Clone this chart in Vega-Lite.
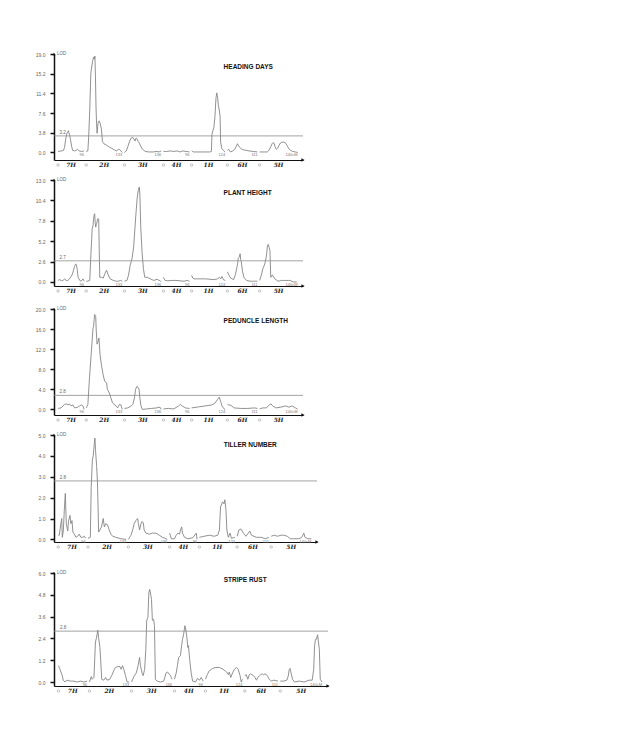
{
  "$schema": "https://vega.github.io/schema/vega-lite/v6.json",
  "background": "white",
  "padding": {"left": 35, "top": 51, "right": 5, "bottom": 5},
  "config": {
    "view": {"stroke": null},
    "axis": {"labelFont": "Liberation Sans"},
    "axisY": {"labelOverlap": false, "labelBound": false, "tickCount": 12},
    "text": {"font": "Liberation Sans"}
  },
  "datasets": {
    "traits": [
      {"trait": "HD", "name": "HEADING DAYS", "threshold": 3.2},
      {"trait": "PH", "name": "PLANT HEIGHT", "threshold": 2.7},
      {"trait": "PL", "name": "PEDUNCLE LENGTH", "threshold": 2.8},
      {"trait": "TN", "name": "TILLER NUMBER", "threshold": 2.8},
      {"trait": "SR", "name": "STRIPE RUST", "threshold": 2.8}
    ],
    "chroms": [
      {"chr": "7H", "start": 0, "end": 96, "mid": 48, "len": "96"},
      {"chr": "2H", "start": 104, "end": 237, "mid": 170.5, "len": "133"},
      {"chr": "3H", "start": 245, "end": 381, "mid": 313, "len": "136"},
      {"chr": "4H", "start": 389, "end": 485, "mid": 437, "len": "96"},
      {"chr": "1H", "start": 493, "end": 617, "mid": 555, "len": "124"},
      {"chr": "6H", "start": 625, "end": 736, "mid": 680.5, "len": "111"},
      {"chr": "5H", "start": 744, "end": 884, "mid": 814, "len": "140cM"}
    ],
    "lod": [
      {"trait":"HD","chr":"7H","cM":0,"LOD":0.2},{"trait":"HD","chr":"7H","cM":12,"LOD":0.3},{"trait":"HD","chr":"7H","cM":20,"LOD":0.4},{"trait":"HD","chr":"7H","cM":24,"LOD":1.0},{"trait":"HD","chr":"7H","cM":28,"LOD":2.5},{"trait":"HD","chr":"7H","cM":32,"LOD":3.6},{"trait":"HD","chr":"7H","cM":36,"LOD":4.0},{"trait":"HD","chr":"7H","cM":38,"LOD":4.2},{"trait":"HD","chr":"7H","cM":40,"LOD":3.8},{"trait":"HD","chr":"7H","cM":43,"LOD":3.3},{"trait":"HD","chr":"7H","cM":46,"LOD":2.5},{"trait":"HD","chr":"7H","cM":50,"LOD":1.2},{"trait":"HD","chr":"7H","cM":54,"LOD":0.4},{"trait":"HD","chr":"7H","cM":60,"LOD":0.3},{"trait":"HD","chr":"7H","cM":66,"LOD":0.4},{"trait":"HD","chr":"7H","cM":72,"LOD":0.6},{"trait":"HD","chr":"7H","cM":78,"LOD":0.3},{"trait":"HD","chr":"7H","cM":86,"LOD":0.2},{"trait":"HD","chr":"7H","cM":96,"LOD":0.3},
      {"trait":"HD","chr":"2H","cM":104,"LOD":0.2},{"trait":"HD","chr":"2H","cM":110,"LOD":0.3},{"trait":"HD","chr":"2H","cM":113,"LOD":3.0},{"trait":"HD","chr":"2H","cM":117,"LOD":8.2},{"trait":"HD","chr":"2H","cM":121,"LOD":15.3},{"trait":"HD","chr":"2H","cM":127,"LOD":17.5},{"trait":"HD","chr":"2H","cM":131,"LOD":18.4},{"trait":"HD","chr":"2H","cM":134,"LOD":18.0},{"trait":"HD","chr":"2H","cM":136,"LOD":18.6},{"trait":"HD","chr":"2H","cM":138,"LOD":14.6},{"trait":"HD","chr":"2H","cM":140,"LOD":9.0},{"trait":"HD","chr":"2H","cM":142,"LOD":5.6},{"trait":"HD","chr":"2H","cM":144,"LOD":3.7},{"trait":"HD","chr":"2H","cM":148,"LOD":5.9},{"trait":"HD","chr":"2H","cM":152,"LOD":6.1},{"trait":"HD","chr":"2H","cM":156,"LOD":5.5},{"trait":"HD","chr":"2H","cM":160,"LOD":4.5},{"trait":"HD","chr":"2H","cM":164,"LOD":2.1},{"trait":"HD","chr":"2H","cM":169,"LOD":1.7},{"trait":"HD","chr":"2H","cM":179,"LOD":1.4},{"trait":"HD","chr":"2H","cM":190,"LOD":1.0},{"trait":"HD","chr":"2H","cM":198,"LOD":0.8},{"trait":"HD","chr":"2H","cM":208,"LOD":0.5},{"trait":"HD","chr":"2H","cM":216,"LOD":0.3},{"trait":"HD","chr":"2H","cM":223,"LOD":0.6},{"trait":"HD","chr":"2H","cM":229,"LOD":0.5},{"trait":"HD","chr":"2H","cM":237,"LOD":0.0},
      {"trait":"HD","chr":"3H","cM":245,"LOD":0.0},{"trait":"HD","chr":"3H","cM":252,"LOD":0.3},{"trait":"HD","chr":"3H","cM":258,"LOD":1.2},{"trait":"HD","chr":"3H","cM":264,"LOD":2.2},{"trait":"HD","chr":"3H","cM":270,"LOD":2.8},{"trait":"HD","chr":"3H","cM":276,"LOD":2.9},{"trait":"HD","chr":"3H","cM":280,"LOD":2.6},{"trait":"HD","chr":"3H","cM":284,"LOD":2.2},{"trait":"HD","chr":"3H","cM":288,"LOD":2.8},{"trait":"HD","chr":"3H","cM":292,"LOD":2.6},{"trait":"HD","chr":"3H","cM":296,"LOD":2.1},{"trait":"HD","chr":"3H","cM":300,"LOD":1.8},{"trait":"HD","chr":"3H","cM":306,"LOD":1.1},{"trait":"HD","chr":"3H","cM":312,"LOD":0.6},{"trait":"HD","chr":"3H","cM":322,"LOD":0.2},{"trait":"HD","chr":"3H","cM":335,"LOD":0.1},{"trait":"HD","chr":"3H","cM":350,"LOD":0.1},{"trait":"HD","chr":"3H","cM":365,"LOD":0.2},{"trait":"HD","chr":"3H","cM":372,"LOD":0.1},{"trait":"HD","chr":"3H","cM":381,"LOD":0.3},
      {"trait":"HD","chr":"4H","cM":389,"LOD":0.2},{"trait":"HD","chr":"4H","cM":400,"LOD":0.2},{"trait":"HD","chr":"4H","cM":415,"LOD":0.3},{"trait":"HD","chr":"4H","cM":425,"LOD":0.2},{"trait":"HD","chr":"4H","cM":440,"LOD":0.3},{"trait":"HD","chr":"4H","cM":450,"LOD":0.1},{"trait":"HD","chr":"4H","cM":460,"LOD":0.3},{"trait":"HD","chr":"4H","cM":472,"LOD":0.2},{"trait":"HD","chr":"4H","cM":485,"LOD":0.1},
      {"trait":"HD","chr":"1H","cM":493,"LOD":0.3},{"trait":"HD","chr":"1H","cM":500,"LOD":0.1},{"trait":"HD","chr":"1H","cM":520,"LOD":0.1},{"trait":"HD","chr":"1H","cM":540,"LOD":0.1},{"trait":"HD","chr":"1H","cM":560,"LOD":0.1},{"trait":"HD","chr":"1H","cM":566,"LOD":0.2},{"trait":"HD","chr":"1H","cM":568,"LOD":3.5},{"trait":"HD","chr":"1H","cM":572,"LOD":4.3},{"trait":"HD","chr":"1H","cM":575,"LOD":4.8},{"trait":"HD","chr":"1H","cM":579,"LOD":6.9},{"trait":"HD","chr":"1H","cM":583,"LOD":10.6},{"trait":"HD","chr":"1H","cM":586,"LOD":11.5},{"trait":"HD","chr":"1H","cM":589,"LOD":10.5},{"trait":"HD","chr":"1H","cM":592,"LOD":9.0},{"trait":"HD","chr":"1H","cM":595,"LOD":8.2},{"trait":"HD","chr":"1H","cM":598,"LOD":7.0},{"trait":"HD","chr":"1H","cM":600,"LOD":2.0},{"trait":"HD","chr":"1H","cM":604,"LOD":0.8},{"trait":"HD","chr":"1H","cM":610,"LOD":0.4},{"trait":"HD","chr":"1H","cM":617,"LOD":0.1},
      {"trait":"HD","chr":"6H","cM":625,"LOD":0.4},{"trait":"HD","chr":"6H","cM":630,"LOD":0.6},{"trait":"HD","chr":"6H","cM":636,"LOD":0.1},{"trait":"HD","chr":"6H","cM":645,"LOD":0.3},{"trait":"HD","chr":"6H","cM":652,"LOD":0.6},{"trait":"HD","chr":"6H","cM":658,"LOD":1.2},{"trait":"HD","chr":"6H","cM":662,"LOD":1.7},{"trait":"HD","chr":"6H","cM":665,"LOD":1.4},{"trait":"HD","chr":"6H","cM":670,"LOD":1.0},{"trait":"HD","chr":"6H","cM":676,"LOD":0.7},{"trait":"HD","chr":"6H","cM":685,"LOD":0.5},{"trait":"HD","chr":"6H","cM":695,"LOD":0.4},{"trait":"HD","chr":"6H","cM":705,"LOD":0.3},{"trait":"HD","chr":"6H","cM":720,"LOD":0.2},{"trait":"HD","chr":"6H","cM":736,"LOD":0.1},
      {"trait":"HD","chr":"5H","cM":744,"LOD":0.1},{"trait":"HD","chr":"5H","cM":760,"LOD":0.1},{"trait":"HD","chr":"5H","cM":772,"LOD":0.1},{"trait":"HD","chr":"5H","cM":778,"LOD":0.4},{"trait":"HD","chr":"5H","cM":785,"LOD":1.1},{"trait":"HD","chr":"5H","cM":790,"LOD":1.7},{"trait":"HD","chr":"5H","cM":793,"LOD":1.9},{"trait":"HD","chr":"5H","cM":797,"LOD":1.8},{"trait":"HD","chr":"5H","cM":801,"LOD":1.1},{"trait":"HD","chr":"5H","cM":806,"LOD":0.6},{"trait":"HD","chr":"5H","cM":810,"LOD":0.8},{"trait":"HD","chr":"5H","cM":815,"LOD":1.3},{"trait":"HD","chr":"5H","cM":820,"LOD":1.8},{"trait":"HD","chr":"5H","cM":826,"LOD":2.0},{"trait":"HD","chr":"5H","cM":832,"LOD":2.0},{"trait":"HD","chr":"5H","cM":838,"LOD":1.9},{"trait":"HD","chr":"5H","cM":845,"LOD":1.4},{"trait":"HD","chr":"5H","cM":852,"LOD":0.7},{"trait":"HD","chr":"5H","cM":858,"LOD":0.4},{"trait":"HD","chr":"5H","cM":866,"LOD":0.2},{"trait":"HD","chr":"5H","cM":876,"LOD":0.1},{"trait":"HD","chr":"5H","cM":884,"LOD":0.0},

      {"trait":"PH","chr":"7H","cM":0,"LOD":0.2},{"trait":"PH","chr":"7H","cM":5,"LOD":0.3},{"trait":"PH","chr":"7H","cM":12,"LOD":0.2},{"trait":"PH","chr":"7H","cM":17,"LOD":0.15},{"trait":"PH","chr":"7H","cM":24,"LOD":0.4},{"trait":"PH","chr":"7H","cM":30,"LOD":0.2},{"trait":"PH","chr":"7H","cM":36,"LOD":0.2},{"trait":"PH","chr":"7H","cM":42,"LOD":0.4},{"trait":"PH","chr":"7H","cM":48,"LOD":0.7},{"trait":"PH","chr":"7H","cM":53,"LOD":1.0},{"trait":"PH","chr":"7H","cM":57,"LOD":1.5},{"trait":"PH","chr":"7H","cM":61,"LOD":2.0},{"trait":"PH","chr":"7H","cM":65,"LOD":2.3},{"trait":"PH","chr":"7H","cM":68,"LOD":2.2},{"trait":"PH","chr":"7H","cM":71,"LOD":1.5},{"trait":"PH","chr":"7H","cM":74,"LOD":0.6},{"trait":"PH","chr":"7H","cM":77,"LOD":0.4},{"trait":"PH","chr":"7H","cM":83,"LOD":0.1},{"trait":"PH","chr":"7H","cM":88,"LOD":0.2},{"trait":"PH","chr":"7H","cM":92,"LOD":0.4},{"trait":"PH","chr":"7H","cM":96,"LOD":0.1},
      {"trait":"PH","chr":"2H","cM":104,"LOD":0.1},{"trait":"PH","chr":"2H","cM":110,"LOD":0.1},{"trait":"PH","chr":"2H","cM":117,"LOD":0.2},{"trait":"PH","chr":"2H","cM":121,"LOD":3.4},{"trait":"PH","chr":"2H","cM":124,"LOD":5.4},{"trait":"PH","chr":"2H","cM":126,"LOD":6.8},{"trait":"PH","chr":"2H","cM":129,"LOD":7.2},{"trait":"PH","chr":"2H","cM":131,"LOD":8.0},{"trait":"PH","chr":"2H","cM":133,"LOD":8.5},{"trait":"PH","chr":"2H","cM":135,"LOD":8.7},{"trait":"PH","chr":"2H","cM":137,"LOD":7.6},{"trait":"PH","chr":"2H","cM":139,"LOD":7.0},{"trait":"PH","chr":"2H","cM":141,"LOD":7.3},{"trait":"PH","chr":"2H","cM":143,"LOD":7.5},{"trait":"PH","chr":"2H","cM":145,"LOD":7.9},{"trait":"PH","chr":"2H","cM":147,"LOD":8.1},{"trait":"PH","chr":"2H","cM":150,"LOD":8.0},{"trait":"PH","chr":"2H","cM":152,"LOD":4.0},{"trait":"PH","chr":"2H","cM":154,"LOD":0.6},{"trait":"PH","chr":"2H","cM":160,"LOD":0.6},{"trait":"PH","chr":"2H","cM":167,"LOD":0.5},{"trait":"PH","chr":"2H","cM":170,"LOD":0.8},{"trait":"PH","chr":"2H","cM":173,"LOD":1.1},{"trait":"PH","chr":"2H","cM":179,"LOD":1.5},{"trait":"PH","chr":"2H","cM":185,"LOD":0.9},{"trait":"PH","chr":"2H","cM":192,"LOD":0.4},{"trait":"PH","chr":"2H","cM":204,"LOD":0.2},{"trait":"PH","chr":"2H","cM":215,"LOD":0.1},{"trait":"PH","chr":"2H","cM":223,"LOD":0.1},{"trait":"PH","chr":"2H","cM":230,"LOD":0.2},{"trait":"PH","chr":"2H","cM":237,"LOD":0.1},
      {"trait":"PH","chr":"3H","cM":245,"LOD":0.1},{"trait":"PH","chr":"3H","cM":254,"LOD":0.2},{"trait":"PH","chr":"3H","cM":260,"LOD":0.85},{"trait":"PH","chr":"3H","cM":266,"LOD":2.1},{"trait":"PH","chr":"3H","cM":273,"LOD":3.0},{"trait":"PH","chr":"3H","cM":279,"LOD":4.5},{"trait":"PH","chr":"3H","cM":282,"LOD":6.0},{"trait":"PH","chr":"3H","cM":287,"LOD":8.5},{"trait":"PH","chr":"3H","cM":292,"LOD":10.7},{"trait":"PH","chr":"3H","cM":297,"LOD":11.9},{"trait":"PH","chr":"3H","cM":300,"LOD":12.1},{"trait":"PH","chr":"3H","cM":302,"LOD":11.1},{"trait":"PH","chr":"3H","cM":305,"LOD":7.2},{"trait":"PH","chr":"3H","cM":310,"LOD":3.8},{"trait":"PH","chr":"3H","cM":315,"LOD":1.7},{"trait":"PH","chr":"3H","cM":320,"LOD":0.6},{"trait":"PH","chr":"3H","cM":329,"LOD":0.6},{"trait":"PH","chr":"3H","cM":341,"LOD":0.4},{"trait":"PH","chr":"3H","cM":353,"LOD":0.2},{"trait":"PH","chr":"3H","cM":366,"LOD":0.35},{"trait":"PH","chr":"3H","cM":378,"LOD":0.1},{"trait":"PH","chr":"3H","cM":381,"LOD":0.1},
      {"trait":"PH","chr":"4H","cM":389,"LOD":0.6},{"trait":"PH","chr":"4H","cM":395,"LOD":0.2},{"trait":"PH","chr":"4H","cM":405,"LOD":0.15},{"trait":"PH","chr":"4H","cM":420,"LOD":0.2},{"trait":"PH","chr":"4H","cM":435,"LOD":0.2},{"trait":"PH","chr":"4H","cM":450,"LOD":0.15},{"trait":"PH","chr":"4H","cM":465,"LOD":0.1},{"trait":"PH","chr":"4H","cM":477,"LOD":0.2},{"trait":"PH","chr":"4H","cM":485,"LOD":0.1},
      {"trait":"PH","chr":"1H","cM":493,"LOD":0.85},{"trait":"PH","chr":"1H","cM":497,"LOD":0.5},{"trait":"PH","chr":"1H","cM":502,"LOD":0.4},{"trait":"PH","chr":"1H","cM":515,"LOD":0.4},{"trait":"PH","chr":"1H","cM":530,"LOD":0.4},{"trait":"PH","chr":"1H","cM":545,"LOD":0.4},{"trait":"PH","chr":"1H","cM":560,"LOD":0.35},{"trait":"PH","chr":"1H","cM":575,"LOD":0.3},{"trait":"PH","chr":"1H","cM":588,"LOD":0.4},{"trait":"PH","chr":"1H","cM":595,"LOD":0.6},{"trait":"PH","chr":"1H","cM":600,"LOD":0.4},{"trait":"PH","chr":"1H","cM":605,"LOD":0.7},{"trait":"PH","chr":"1H","cM":610,"LOD":0.3},{"trait":"PH","chr":"1H","cM":617,"LOD":0.2},
      {"trait":"PH","chr":"6H","cM":625,"LOD":1.3},{"trait":"PH","chr":"6H","cM":632,"LOD":0.8},{"trait":"PH","chr":"6H","cM":637,"LOD":0.5},{"trait":"PH","chr":"6H","cM":648,"LOD":0.3},{"trait":"PH","chr":"6H","cM":655,"LOD":1.0},{"trait":"PH","chr":"6H","cM":659,"LOD":1.7},{"trait":"PH","chr":"6H","cM":663,"LOD":2.4},{"trait":"PH","chr":"6H","cM":665,"LOD":3.0},{"trait":"PH","chr":"6H","cM":669,"LOD":3.2},{"trait":"PH","chr":"6H","cM":672,"LOD":3.6},{"trait":"PH","chr":"6H","cM":674,"LOD":2.9},{"trait":"PH","chr":"6H","cM":676,"LOD":2.6},{"trait":"PH","chr":"6H","cM":681,"LOD":1.3},{"trait":"PH","chr":"6H","cM":686,"LOD":0.6},{"trait":"PH","chr":"6H","cM":690,"LOD":0.4},{"trait":"PH","chr":"6H","cM":696,"LOD":0.2},{"trait":"PH","chr":"6H","cM":709,"LOD":0.1},{"trait":"PH","chr":"6H","cM":721,"LOD":0.1},{"trait":"PH","chr":"6H","cM":736,"LOD":0.1},
      {"trait":"PH","chr":"5H","cM":744,"LOD":0.2},{"trait":"PH","chr":"5H","cM":750,"LOD":0.85},{"trait":"PH","chr":"5H","cM":756,"LOD":1.7},{"trait":"PH","chr":"5H","cM":763,"LOD":2.3},{"trait":"PH","chr":"5H","cM":769,"LOD":3.3},{"trait":"PH","chr":"5H","cM":773,"LOD":4.7},{"trait":"PH","chr":"5H","cM":776,"LOD":4.8},{"trait":"PH","chr":"5H","cM":779,"LOD":4.4},{"trait":"PH","chr":"5H","cM":782,"LOD":4.0},{"trait":"PH","chr":"5H","cM":785,"LOD":0.6},{"trait":"PH","chr":"5H","cM":791,"LOD":0.9},{"trait":"PH","chr":"5H","cM":800,"LOD":0.4},{"trait":"PH","chr":"5H","cM":812,"LOD":0.1},{"trait":"PH","chr":"5H","cM":825,"LOD":0.2},{"trait":"PH","chr":"5H","cM":837,"LOD":0.2},{"trait":"PH","chr":"5H","cM":850,"LOD":0.2},{"trait":"PH","chr":"5H","cM":856,"LOD":0.2},{"trait":"PH","chr":"5H","cM":868,"LOD":0.0},{"trait":"PH","chr":"5H","cM":881,"LOD":0.0},

      {"trait":"PL","chr":"7H","cM":0,"LOD":0.2},{"trait":"PL","chr":"7H","cM":11,"LOD":0.3},{"trait":"PL","chr":"7H","cM":24,"LOD":1.0},{"trait":"PL","chr":"7H","cM":30,"LOD":1.1},{"trait":"PL","chr":"7H","cM":36,"LOD":0.9},{"trait":"PL","chr":"7H","cM":42,"LOD":1.1},{"trait":"PL","chr":"7H","cM":48,"LOD":0.7},{"trait":"PL","chr":"7H","cM":55,"LOD":0.9},{"trait":"PL","chr":"7H","cM":61,"LOD":0.3},{"trait":"PL","chr":"7H","cM":73,"LOD":0.45},{"trait":"PL","chr":"7H","cM":80,"LOD":0.7},{"trait":"PL","chr":"7H","cM":86,"LOD":0.9},{"trait":"PL","chr":"7H","cM":92,"LOD":0.7},{"trait":"PL","chr":"7H","cM":96,"LOD":0.0},
      {"trait":"PL","chr":"2H","cM":104,"LOD":0.3},{"trait":"PL","chr":"2H","cM":110,"LOD":1.0},{"trait":"PL","chr":"2H","cM":116,"LOD":6.3},{"trait":"PL","chr":"2H","cM":123,"LOD":11.6},{"trait":"PL","chr":"2H","cM":129,"LOD":16.2},{"trait":"PL","chr":"2H","cM":131,"LOD":16.5},{"trait":"PL","chr":"2H","cM":135,"LOD":18.9},{"trait":"PL","chr":"2H","cM":139,"LOD":18.5},{"trait":"PL","chr":"2H","cM":141,"LOD":15.6},{"trait":"PL","chr":"2H","cM":144,"LOD":13.0},{"trait":"PL","chr":"2H","cM":148,"LOD":13.6},{"trait":"PL","chr":"2H","cM":151,"LOD":14.2},{"trait":"PL","chr":"2H","cM":155,"LOD":10.9},{"trait":"PL","chr":"2H","cM":160,"LOD":8.9},{"trait":"PL","chr":"2H","cM":166,"LOD":7.0},{"trait":"PL","chr":"2H","cM":172,"LOD":5.6},{"trait":"PL","chr":"2H","cM":179,"LOD":5.3},{"trait":"PL","chr":"2H","cM":182,"LOD":4.0},{"trait":"PL","chr":"2H","cM":189,"LOD":3.3},{"trait":"PL","chr":"2H","cM":195,"LOD":2.3},{"trait":"PL","chr":"2H","cM":201,"LOD":1.3},{"trait":"PL","chr":"2H","cM":207,"LOD":1.0},{"trait":"PL","chr":"2H","cM":214,"LOD":0.7},{"trait":"PL","chr":"2H","cM":220,"LOD":0.3},{"trait":"PL","chr":"2H","cM":226,"LOD":1.0},{"trait":"PL","chr":"2H","cM":232,"LOD":0.9},{"trait":"PL","chr":"2H","cM":237,"LOD":0.0},
      {"trait":"PL","chr":"3H","cM":245,"LOD":0.2},{"trait":"PL","chr":"3H","cM":257,"LOD":0.3},{"trait":"PL","chr":"3H","cM":270,"LOD":0.7},{"trait":"PL","chr":"3H","cM":276,"LOD":1.0},{"trait":"PL","chr":"3H","cM":282,"LOD":2.3},{"trait":"PL","chr":"3H","cM":286,"LOD":4.0},{"trait":"PL","chr":"3H","cM":291,"LOD":4.6},{"trait":"PL","chr":"3H","cM":295,"LOD":4.4},{"trait":"PL","chr":"3H","cM":299,"LOD":4.0},{"trait":"PL","chr":"3H","cM":302,"LOD":2.3},{"trait":"PL","chr":"3H","cM":306,"LOD":0.7},{"trait":"PL","chr":"3H","cM":311,"LOD":0.0},{"trait":"PL","chr":"3H","cM":326,"LOD":0.1},{"trait":"PL","chr":"3H","cM":345,"LOD":0.2},{"trait":"PL","chr":"3H","cM":363,"LOD":0.3},{"trait":"PL","chr":"3H","cM":376,"LOD":0.45},{"trait":"PL","chr":"3H","cM":381,"LOD":0.0},
      {"trait":"PL","chr":"4H","cM":389,"LOD":0.1},{"trait":"PL","chr":"4H","cM":408,"LOD":0.2},{"trait":"PL","chr":"4H","cM":427,"LOD":0.1},{"trait":"PL","chr":"4H","cM":445,"LOD":0.7},{"trait":"PL","chr":"4H","cM":451,"LOD":1.0},{"trait":"PL","chr":"4H","cM":458,"LOD":0.7},{"trait":"PL","chr":"4H","cM":470,"LOD":0.3},{"trait":"PL","chr":"4H","cM":483,"LOD":0.2},{"trait":"PL","chr":"4H","cM":485,"LOD":0.2},
      {"trait":"PL","chr":"1H","cM":493,"LOD":0.3},{"trait":"PL","chr":"1H","cM":518,"LOD":0.5},{"trait":"PL","chr":"1H","cM":543,"LOD":0.7},{"trait":"PL","chr":"1H","cM":568,"LOD":0.9},{"trait":"PL","chr":"1H","cM":580,"LOD":1.3},{"trait":"PL","chr":"1H","cM":589,"LOD":2.0},{"trait":"PL","chr":"1H","cM":595,"LOD":2.45},{"trait":"PL","chr":"1H","cM":600,"LOD":1.6},{"trait":"PL","chr":"1H","cM":605,"LOD":0.7},{"trait":"PL","chr":"1H","cM":611,"LOD":0.2},{"trait":"PL","chr":"1H","cM":617,"LOD":0.0},
      {"trait":"PL","chr":"6H","cM":625,"LOD":1.1},{"trait":"PL","chr":"6H","cM":631,"LOD":0.85},{"trait":"PL","chr":"6H","cM":637,"LOD":0.85},{"trait":"PL","chr":"6H","cM":650,"LOD":0.3},{"trait":"PL","chr":"6H","cM":675,"LOD":0.2},{"trait":"PL","chr":"6H","cM":700,"LOD":0.2},{"trait":"PL","chr":"6H","cM":725,"LOD":0.3},{"trait":"PL","chr":"6H","cM":736,"LOD":0.2},
      {"trait":"PL","chr":"5H","cM":744,"LOD":0.1},{"trait":"PL","chr":"5H","cM":756,"LOD":0.3},{"trait":"PL","chr":"5H","cM":768,"LOD":0.3},{"trait":"PL","chr":"5H","cM":780,"LOD":0.9},{"trait":"PL","chr":"5H","cM":786,"LOD":1.1},{"trait":"PL","chr":"5H","cM":792,"LOD":0.7},{"trait":"PL","chr":"5H","cM":804,"LOD":0.3},{"trait":"PL","chr":"5H","cM":822,"LOD":0.45},{"trait":"PL","chr":"5H","cM":840,"LOD":0.7},{"trait":"PL","chr":"5H","cM":852,"LOD":0.45},{"trait":"PL","chr":"5H","cM":864,"LOD":0.7},{"trait":"PL","chr":"5H","cM":876,"LOD":0.3},{"trait":"PL","chr":"5H","cM":884,"LOD":0.1},

      {"trait":"TN","chr":"7H","cM":0,"LOD":0.2},{"trait":"TN","chr":"7H","cM":3.5,"LOD":0.2},{"trait":"TN","chr":"7H","cM":9,"LOD":0.75},{"trait":"TN","chr":"7H","cM":12,"LOD":1.0},{"trait":"TN","chr":"7H","cM":14,"LOD":0.1},{"trait":"TN","chr":"7H","cM":17.5,"LOD":0.4},{"trait":"TN","chr":"7H","cM":21,"LOD":1.4},{"trait":"TN","chr":"7H","cM":24.5,"LOD":2.2},{"trait":"TN","chr":"7H","cM":28,"LOD":0.75},{"trait":"TN","chr":"7H","cM":33,"LOD":0.4},{"trait":"TN","chr":"7H","cM":36,"LOD":0.9},{"trait":"TN","chr":"7H","cM":41,"LOD":1.15},{"trait":"TN","chr":"7H","cM":44,"LOD":0.75},{"trait":"TN","chr":"7H","cM":48,"LOD":0.9},{"trait":"TN","chr":"7H","cM":51,"LOD":0.35},{"trait":"TN","chr":"7H","cM":56,"LOD":0.25},{"trait":"TN","chr":"7H","cM":62,"LOD":0.1},{"trait":"TN","chr":"7H","cM":67.5,"LOD":0.15},{"trait":"TN","chr":"7H","cM":73,"LOD":0.25},{"trait":"TN","chr":"7H","cM":79,"LOD":0.1},{"trait":"TN","chr":"7H","cM":85,"LOD":0.1},{"trait":"TN","chr":"7H","cM":91,"LOD":0.15},{"trait":"TN","chr":"7H","cM":96,"LOD":0.05},
      {"trait":"TN","chr":"2H","cM":104,"LOD":0.05},{"trait":"TN","chr":"2H","cM":112,"LOD":0.1},{"trait":"TN","chr":"2H","cM":115,"LOD":2.5},{"trait":"TN","chr":"2H","cM":119,"LOD":3.8},{"trait":"TN","chr":"2H","cM":122,"LOD":4.0},{"trait":"TN","chr":"2H","cM":126,"LOD":4.6},{"trait":"TN","chr":"2H","cM":128,"LOD":4.85},{"trait":"TN","chr":"2H","cM":130,"LOD":4.3},{"trait":"TN","chr":"2H","cM":134,"LOD":3.5},{"trait":"TN","chr":"2H","cM":137,"LOD":2.7},{"trait":"TN","chr":"2H","cM":141,"LOD":0.35},{"trait":"TN","chr":"2H","cM":145,"LOD":0.45},{"trait":"TN","chr":"2H","cM":151,"LOD":0.6},{"trait":"TN","chr":"2H","cM":157,"LOD":1.0},{"trait":"TN","chr":"2H","cM":161,"LOD":0.6},{"trait":"TN","chr":"2H","cM":166,"LOD":0.75},{"trait":"TN","chr":"2H","cM":172,"LOD":0.7},{"trait":"TN","chr":"2H","cM":178,"LOD":0.45},{"trait":"TN","chr":"2H","cM":184,"LOD":0.25},{"trait":"TN","chr":"2H","cM":190,"LOD":0.15},{"trait":"TN","chr":"2H","cM":201,"LOD":0.1},{"trait":"TN","chr":"2H","cM":219,"LOD":0.03},{"trait":"TN","chr":"2H","cM":237,"LOD":0.0},
      {"trait":"TN","chr":"3H","cM":245,"LOD":0.0},{"trait":"TN","chr":"3H","cM":254,"LOD":0.2},{"trait":"TN","chr":"3H","cM":260,"LOD":0.45},{"trait":"TN","chr":"3H","cM":265,"LOD":0.75},{"trait":"TN","chr":"3H","cM":271,"LOD":0.9},{"trait":"TN","chr":"3H","cM":277,"LOD":1.0},{"trait":"TN","chr":"3H","cM":280,"LOD":0.75},{"trait":"TN","chr":"3H","cM":284,"LOD":0.45},{"trait":"TN","chr":"3H","cM":289,"LOD":0.75},{"trait":"TN","chr":"3H","cM":292,"LOD":0.85},{"trait":"TN","chr":"3H","cM":297,"LOD":0.8},{"trait":"TN","chr":"3H","cM":300,"LOD":0.45},{"trait":"TN","chr":"3H","cM":306,"LOD":0.3},{"trait":"TN","chr":"3H","cM":318,"LOD":0.25},{"trait":"TN","chr":"3H","cM":329,"LOD":0.3},{"trait":"TN","chr":"3H","cM":341,"LOD":0.3},{"trait":"TN","chr":"3H","cM":353,"LOD":0.2},{"trait":"TN","chr":"3H","cM":364,"LOD":0.1},{"trait":"TN","chr":"3H","cM":381,"LOD":0.0},
      {"trait":"TN","chr":"4H","cM":389,"LOD":0.3},{"trait":"TN","chr":"4H","cM":395,"LOD":0.03},{"trait":"TN","chr":"4H","cM":406,"LOD":0.03},{"trait":"TN","chr":"4H","cM":412,"LOD":0.2},{"trait":"TN","chr":"4H","cM":418,"LOD":0.3},{"trait":"TN","chr":"4H","cM":424,"LOD":0.25},{"trait":"TN","chr":"4H","cM":427,"LOD":0.45},{"trait":"TN","chr":"4H","cM":431,"LOD":0.6},{"trait":"TN","chr":"4H","cM":434,"LOD":0.3},{"trait":"TN","chr":"4H","cM":441,"LOD":0.1},{"trait":"TN","chr":"4H","cM":453,"LOD":0.03},{"trait":"TN","chr":"4H","cM":470,"LOD":0.08},{"trait":"TN","chr":"4H","cM":482,"LOD":0.3},{"trait":"TN","chr":"4H","cM":485,"LOD":0.0},
      {"trait":"TN","chr":"1H","cM":493,"LOD":0.1},{"trait":"TN","chr":"1H","cM":510,"LOD":0.15},{"trait":"TN","chr":"1H","cM":528,"LOD":0.2},{"trait":"TN","chr":"1H","cM":545,"LOD":0.15},{"trait":"TN","chr":"1H","cM":557,"LOD":0.2},{"trait":"TN","chr":"1H","cM":563,"LOD":0.45},{"trait":"TN","chr":"1H","cM":567,"LOD":1.55},{"trait":"TN","chr":"1H","cM":571,"LOD":1.7},{"trait":"TN","chr":"1H","cM":574,"LOD":1.8},{"trait":"TN","chr":"1H","cM":579,"LOD":1.7},{"trait":"TN","chr":"1H","cM":582,"LOD":1.9},{"trait":"TN","chr":"1H","cM":586,"LOD":1.4},{"trait":"TN","chr":"1H","cM":589,"LOD":0.45},{"trait":"TN","chr":"1H","cM":594,"LOD":0.1},{"trait":"TN","chr":"1H","cM":600,"LOD":0.3},{"trait":"TN","chr":"1H","cM":605,"LOD":0.05},{"trait":"TN","chr":"1H","cM":617,"LOD":0.1},
      {"trait":"TN","chr":"6H","cM":625,"LOD":0.15},{"trait":"TN","chr":"6H","cM":631,"LOD":0.45},{"trait":"TN","chr":"6H","cM":638,"LOD":0.5},{"trait":"TN","chr":"6H","cM":647,"LOD":0.3},{"trait":"TN","chr":"6H","cM":656,"LOD":0.15},{"trait":"TN","chr":"6H","cM":664,"LOD":0.3},{"trait":"TN","chr":"6H","cM":669,"LOD":0.4},{"trait":"TN","chr":"6H","cM":675,"LOD":0.2},{"trait":"TN","chr":"6H","cM":692,"LOD":0.1},{"trait":"TN","chr":"6H","cM":708,"LOD":0.1},{"trait":"TN","chr":"6H","cM":725,"LOD":0.03},{"trait":"TN","chr":"6H","cM":736,"LOD":0.1},
      {"trait":"TN","chr":"5H","cM":744,"LOD":0.15},{"trait":"TN","chr":"5H","cM":755,"LOD":0.2},{"trait":"TN","chr":"5H","cM":766,"LOD":0.15},{"trait":"TN","chr":"5H","cM":778,"LOD":0.2},{"trait":"TN","chr":"5H","cM":789,"LOD":0.2},{"trait":"TN","chr":"5H","cM":800,"LOD":0.15},{"trait":"TN","chr":"5H","cM":811,"LOD":0.03},{"trait":"TN","chr":"5H","cM":822,"LOD":0.03},{"trait":"TN","chr":"5H","cM":839,"LOD":0.03},{"trait":"TN","chr":"5H","cM":850,"LOD":0.08},{"trait":"TN","chr":"5H","cM":858,"LOD":0.3},{"trait":"TN","chr":"5H","cM":862,"LOD":0.1},{"trait":"TN","chr":"5H","cM":872,"LOD":0.03},{"trait":"TN","chr":"5H","cM":884,"LOD":0.03},

      {"trait":"SR","chr":"7H","cM":0,"LOD":0.9},{"trait":"SR","chr":"7H","cM":4,"LOD":0.75},{"trait":"SR","chr":"7H","cM":8,"LOD":0.55},{"trait":"SR","chr":"7H","cM":12,"LOD":0.4},{"trait":"SR","chr":"7H","cM":16,"LOD":0.1},{"trait":"SR","chr":"7H","cM":22,"LOD":0.0},{"trait":"SR","chr":"7H","cM":28,"LOD":0.1},{"trait":"SR","chr":"7H","cM":40,"LOD":0.05},{"trait":"SR","chr":"7H","cM":51,"LOD":0.05},{"trait":"SR","chr":"7H","cM":63,"LOD":0.0},{"trait":"SR","chr":"7H","cM":74,"LOD":0.05},{"trait":"SR","chr":"7H","cM":85,"LOD":0.0},{"trait":"SR","chr":"7H","cM":96,"LOD":0.05},
      {"trait":"SR","chr":"2H","cM":104,"LOD":0.0},{"trait":"SR","chr":"2H","cM":110,"LOD":0.3},{"trait":"SR","chr":"2H","cM":113,"LOD":0.15},{"trait":"SR","chr":"2H","cM":119,"LOD":0.25},{"trait":"SR","chr":"2H","cM":124,"LOD":2.2},{"trait":"SR","chr":"2H","cM":127,"LOD":2.4},{"trait":"SR","chr":"2H","cM":132,"LOD":2.85},{"trait":"SR","chr":"2H","cM":135,"LOD":2.4},{"trait":"SR","chr":"2H","cM":139,"LOD":1.9},{"trait":"SR","chr":"2H","cM":142,"LOD":1.1},{"trait":"SR","chr":"2H","cM":145,"LOD":0.15},{"trait":"SR","chr":"2H","cM":152,"LOD":0.1},{"trait":"SR","chr":"2H","cM":158,"LOD":0.25},{"trait":"SR","chr":"2H","cM":163,"LOD":0.1},{"trait":"SR","chr":"2H","cM":172,"LOD":0.15},{"trait":"SR","chr":"2H","cM":180,"LOD":0.4},{"trait":"SR","chr":"2H","cM":186,"LOD":0.65},{"trait":"SR","chr":"2H","cM":191,"LOD":0.8},{"trait":"SR","chr":"2H","cM":199,"LOD":0.85},{"trait":"SR","chr":"2H","cM":206,"LOD":0.85},{"trait":"SR","chr":"2H","cM":210,"LOD":0.7},{"trait":"SR","chr":"2H","cM":215,"LOD":0.9},{"trait":"SR","chr":"2H","cM":219,"LOD":0.7},{"trait":"SR","chr":"2H","cM":225,"LOD":0.35},{"trait":"SR","chr":"2H","cM":230,"LOD":0.0},{"trait":"SR","chr":"2H","cM":237,"LOD":0.0},
      {"trait":"SR","chr":"3H","cM":245,"LOD":0.0},{"trait":"SR","chr":"3H","cM":253,"LOD":0.3},{"trait":"SR","chr":"3H","cM":261,"LOD":0.5},{"trait":"SR","chr":"3H","cM":267,"LOD":0.9},{"trait":"SR","chr":"3H","cM":272,"LOD":1.35},{"trait":"SR","chr":"3H","cM":275,"LOD":0.9},{"trait":"SR","chr":"3H","cM":281,"LOD":0.45},{"trait":"SR","chr":"3H","cM":284,"LOD":0.35},{"trait":"SR","chr":"3H","cM":289,"LOD":0.7},{"trait":"SR","chr":"3H","cM":293,"LOD":1.8},{"trait":"SR","chr":"3H","cM":296,"LOD":3.4},{"trait":"SR","chr":"3H","cM":300,"LOD":3.55},{"trait":"SR","chr":"3H","cM":303,"LOD":4.9},{"trait":"SR","chr":"3H","cM":306,"LOD":5.1},{"trait":"SR","chr":"3H","cM":310,"LOD":4.75},{"trait":"SR","chr":"3H","cM":312,"LOD":4.55},{"trait":"SR","chr":"3H","cM":315,"LOD":3.4},{"trait":"SR","chr":"3H","cM":319,"LOD":3.45},{"trait":"SR","chr":"3H","cM":322,"LOD":3.1},{"trait":"SR","chr":"3H","cM":325,"LOD":0.15},{"trait":"SR","chr":"3H","cM":331,"LOD":0.05},{"trait":"SR","chr":"3H","cM":342,"LOD":0.0},{"trait":"SR","chr":"3H","cM":353,"LOD":0.05},{"trait":"SR","chr":"3H","cM":361,"LOD":0.5},{"trait":"SR","chr":"3H","cM":366,"LOD":0.55},{"trait":"SR","chr":"3H","cM":370,"LOD":0.45},{"trait":"SR","chr":"3H","cM":374,"LOD":0.4},{"trait":"SR","chr":"3H","cM":377,"LOD":0.3},{"trait":"SR","chr":"3H","cM":381,"LOD":0.15},
      {"trait":"SR","chr":"4H","cM":389,"LOD":0.15},{"trait":"SR","chr":"4H","cM":395,"LOD":0.5},{"trait":"SR","chr":"4H","cM":399,"LOD":0.9},{"trait":"SR","chr":"4H","cM":403,"LOD":1.35},{"trait":"SR","chr":"4H","cM":409,"LOD":1.45},{"trait":"SR","chr":"4H","cM":413,"LOD":2.0},{"trait":"SR","chr":"4H","cM":416,"LOD":2.35},{"trait":"SR","chr":"4H","cM":420,"LOD":2.65},{"trait":"SR","chr":"4H","cM":424,"LOD":3.1},{"trait":"SR","chr":"4H","cM":426,"LOD":3.0},{"trait":"SR","chr":"4H","cM":430,"LOD":2.55},{"trait":"SR","chr":"4H","cM":434,"LOD":1.9},{"trait":"SR","chr":"4H","cM":436,"LOD":2.0},{"trait":"SR","chr":"4H","cM":440,"LOD":1.25},{"trait":"SR","chr":"4H","cM":445,"LOD":0.5},{"trait":"SR","chr":"4H","cM":450,"LOD":0.05},{"trait":"SR","chr":"4H","cM":460,"LOD":0.0},{"trait":"SR","chr":"4H","cM":466,"LOD":0.2},{"trait":"SR","chr":"4H","cM":473,"LOD":0.1},{"trait":"SR","chr":"4H","cM":479,"LOD":0.25},{"trait":"SR","chr":"4H","cM":485,"LOD":0.05},
      {"trait":"SR","chr":"1H","cM":493,"LOD":0.15},{"trait":"SR","chr":"1H","cM":499,"LOD":0.4},{"trait":"SR","chr":"1H","cM":505,"LOD":0.6},{"trait":"SR","chr":"1H","cM":517,"LOD":0.75},{"trait":"SR","chr":"1H","cM":528,"LOD":0.8},{"trait":"SR","chr":"1H","cM":540,"LOD":0.8},{"trait":"SR","chr":"1H","cM":552,"LOD":0.7},{"trait":"SR","chr":"1H","cM":564,"LOD":0.55},{"trait":"SR","chr":"1H","cM":570,"LOD":0.4},{"trait":"SR","chr":"1H","cM":573,"LOD":0.55},{"trait":"SR","chr":"1H","cM":578,"LOD":0.25},{"trait":"SR","chr":"1H","cM":584,"LOD":0.5},{"trait":"SR","chr":"1H","cM":590,"LOD":0.7},{"trait":"SR","chr":"1H","cM":597,"LOD":0.8},{"trait":"SR","chr":"1H","cM":603,"LOD":0.7},{"trait":"SR","chr":"1H","cM":609,"LOD":0.35},{"trait":"SR","chr":"1H","cM":613,"LOD":0.0},{"trait":"SR","chr":"1H","cM":617,"LOD":0.15},
      {"trait":"SR","chr":"6H","cM":625,"LOD":0.35},{"trait":"SR","chr":"6H","cM":630,"LOD":0.4},{"trait":"SR","chr":"6H","cM":635,"LOD":0.15},{"trait":"SR","chr":"6H","cM":640,"LOD":0.4},{"trait":"SR","chr":"6H","cM":644,"LOD":0.45},{"trait":"SR","chr":"6H","cM":649,"LOD":0.4},{"trait":"SR","chr":"6H","cM":654,"LOD":0.35},{"trait":"SR","chr":"6H","cM":659,"LOD":0.25},{"trait":"SR","chr":"6H","cM":664,"LOD":0.1},{"trait":"SR","chr":"6H","cM":669,"LOD":0.25},{"trait":"SR","chr":"6H","cM":674,"LOD":0.35},{"trait":"SR","chr":"6H","cM":678,"LOD":0.4},{"trait":"SR","chr":"6H","cM":683,"LOD":0.45},{"trait":"SR","chr":"6H","cM":688,"LOD":0.4},{"trait":"SR","chr":"6H","cM":693,"LOD":0.45},{"trait":"SR","chr":"6H","cM":698,"LOD":0.4},{"trait":"SR","chr":"6H","cM":702,"LOD":0.3},{"trait":"SR","chr":"6H","cM":707,"LOD":0.15},{"trait":"SR","chr":"6H","cM":714,"LOD":0.05},{"trait":"SR","chr":"6H","cM":722,"LOD":0.1},{"trait":"SR","chr":"6H","cM":736,"LOD":0.05},
      {"trait":"SR","chr":"5H","cM":744,"LOD":0.05},{"trait":"SR","chr":"5H","cM":755,"LOD":0.05},{"trait":"SR","chr":"5H","cM":766,"LOD":0.1},{"trait":"SR","chr":"5H","cM":771,"LOD":0.35},{"trait":"SR","chr":"5H","cM":774,"LOD":0.7},{"trait":"SR","chr":"5H","cM":777,"LOD":0.75},{"trait":"SR","chr":"5H","cM":780,"LOD":0.5},{"trait":"SR","chr":"5H","cM":785,"LOD":0.15},{"trait":"SR","chr":"5H","cM":792,"LOD":0.0},{"trait":"SR","chr":"5H","cM":808,"LOD":0.05},{"trait":"SR","chr":"5H","cM":824,"LOD":0.0},{"trait":"SR","chr":"5H","cM":840,"LOD":0.1},{"trait":"SR","chr":"5H","cM":851,"LOD":0.1},{"trait":"SR","chr":"5H","cM":856,"LOD":0.7},{"trait":"SR","chr":"5H","cM":859,"LOD":2.0},{"trait":"SR","chr":"5H","cM":862,"LOD":2.35},{"trait":"SR","chr":"5H","cM":865,"LOD":2.35},{"trait":"SR","chr":"5H","cM":869,"LOD":2.6},{"trait":"SR","chr":"5H","cM":872,"LOD":2.2},{"trait":"SR","chr":"5H","cM":875,"LOD":1.8},{"trait":"SR","chr":"5H","cM":878,"LOD":0.15},{"trait":"SR","chr":"5H","cM":884,"LOD":0.0}
    ]
  },
  "spacing": 20,
  "vconcat": [
    {
      "spacing": 12,
      "vconcat": [
        {
          "spacing": 9,
          "vconcat": [
            {
              "width": 249, "height": 106,
              "layer": [
                {"data": {"name": "lod"}, "transform": [{"filter": "datum.trait === 'HD'"}], "mark": {"type": "line", "color": "#858585", "strokeWidth": 0.9},
                 "encoding": {
                   "x": {"field": "cM", "type": "quantitative", "scale": {"domain": [-15, 904], "nice": false, "zero": false}, "axis": {"title": null, "labels": false, "ticks": false, "grid": false, "domainColor": "#111", "domainWidth": 1}},
                   "y": {"field": "LOD", "type": "quantitative", "scale": {"domain": [-1.45, 19], "nice": false, "zero": false}, "axis": {"title": null, "values": [0, 3.8, 7.6, 11.4, 15.2, 19], "tickCount": 12, "format": ".1f", "labelOverlap": false, "grid": false, "domainColor": "#111", "domainWidth": 1.5, "tickColor": "#111", "tickSize": 4, "tickWidth": 1.5, "labelFontSize": 5, "labelColor": "#666", "labelPadding": 5}},
                   "detail": {"field": "chr"}}},
                {"data": {"name": "traits"}, "transform": [{"filter": "datum.trait === 'HD'"}], "mark": {"type": "rule", "color": "#8c8c8c", "strokeWidth": 0.8}, "encoding": {"y": {"field": "threshold", "type": "quantitative"}}},
                {"data": {"name": "traits"}, "transform": [{"filter": "datum.trait === 'HD'"}], "mark": {"type": "text", "fontSize": 4.5, "color": "#666", "align": "left", "baseline": "bottom", "dy": -1}, "encoding": {"x": {"datum": 5}, "y": {"field": "threshold", "type": "quantitative"}, "text": {"field": "threshold", "type": "quantitative", "format": ".1f"}}},
                {"data": {"name": "traits"}, "transform": [{"filter": "datum.trait === 'HD'"}], "mark": {"type": "text", "fontSize": 6.5, "fontWeight": "bold", "color": "#111", "align": "left", "baseline": "middle"}, "encoding": {"x": {"datum": 611}, "y": {"datum": 16.4}, "text": {"field": "name"}}},
                {"data": {"name": "traits"}, "transform": [{"filter": "datum.trait === 'HD'"}], "mark": {"type": "text", "fontSize": 4.5, "color": "#666", "align": "left", "baseline": "middle", "dx": 3, "text": "LOD"}, "encoding": {"x": {"datum": -15}, "y": {"datum": 19}}},
                {"data": {"name": "traits"}, "transform": [{"filter": "datum.trait === 'HD'"}], "mark": {"type": "point", "shape": "triangle-up", "filled": true, "color": "#111", "size": 10, "opacity": 1}, "encoding": {"x": {"datum": -15}, "y": {"datum": 19}}},
                {"data": {"name": "traits"}, "transform": [{"filter": "datum.trait === 'HD'"}], "mark": {"type": "point", "shape": "triangle-right", "filled": true, "color": "#111", "size": 14, "opacity": 1}, "encoding": {"x": {"datum": 904}, "y": {"datum": -1.45}}},
                {"data": {"name": "chroms"}, "mark": {"type": "text", "font": "DejaVu Serif", "fontStyle": "italic", "fontWeight": "bold", "fontSize": 6, "color": "#222", "baseline": "top", "dy": 2}, "encoding": {"x": {"field": "mid", "type": "quantitative"}, "y": {"datum": -1.45}, "text": {"field": "chr"}}},
                {"data": {"name": "chroms"}, "mark": {"type": "point", "shape": "circle", "filled": false, "color": "#888", "strokeWidth": 0.7, "size": 6, "yOffset": 5}, "encoding": {"x": {"field": "start", "type": "quantitative"}, "y": {"datum": -1.45}}},
                {"data": {"name": "chroms"}, "mark": {"type": "text", "fontSize": 4, "color": "#777", "align": "right", "baseline": "top", "dy": 1}, "encoding": {"x": {"field": "end", "type": "quantitative"}, "y": {"datum": 0}, "text": {"field": "len"}}}
              ]
            },
            {
              "width": 249, "height": 106,
              "layer": [
                {"data": {"name": "lod"}, "transform": [{"filter": "datum.trait === 'PH'"}], "mark": {"type": "line", "color": "#858585", "strokeWidth": 0.9},
                 "encoding": {
                   "x": {"field": "cM", "type": "quantitative", "scale": {"domain": [-15, 904], "nice": false, "zero": false}, "axis": {"title": null, "labels": false, "ticks": false, "grid": false, "domainColor": "#111", "domainWidth": 1}},
                   "y": {"field": "LOD", "type": "quantitative", "scale": {"domain": [-0.51, 13], "nice": false, "zero": false}, "axis": {"title": null, "values": [0, 2.6, 5.2, 7.8, 10.4, 13], "tickCount": 12, "format": ".1f", "labelOverlap": false, "grid": false, "domainColor": "#111", "domainWidth": 1.5, "tickColor": "#111", "tickSize": 4, "tickWidth": 1.5, "labelFontSize": 5, "labelColor": "#666", "labelPadding": 5}},
                   "detail": {"field": "chr"}}},
                {"data": {"name": "traits"}, "transform": [{"filter": "datum.trait === 'PH'"}], "mark": {"type": "rule", "color": "#8c8c8c", "strokeWidth": 0.8}, "encoding": {"y": {"field": "threshold", "type": "quantitative"}}},
                {"data": {"name": "traits"}, "transform": [{"filter": "datum.trait === 'PH'"}], "mark": {"type": "text", "fontSize": 4.5, "color": "#666", "align": "left", "baseline": "bottom", "dy": -1}, "encoding": {"x": {"datum": 5}, "y": {"field": "threshold", "type": "quantitative"}, "text": {"field": "threshold", "type": "quantitative", "format": ".1f"}}},
                {"data": {"name": "traits"}, "transform": [{"filter": "datum.trait === 'PH'"}], "mark": {"type": "text", "fontSize": 6.5, "fontWeight": "bold", "color": "#111", "align": "left", "baseline": "middle"}, "encoding": {"x": {"datum": 611}, "y": {"datum": 11.4}, "text": {"field": "name"}}},
                {"data": {"name": "traits"}, "transform": [{"filter": "datum.trait === 'PH'"}], "mark": {"type": "text", "fontSize": 4.5, "color": "#666", "align": "left", "baseline": "middle", "dx": 3, "text": "LOD"}, "encoding": {"x": {"datum": -15}, "y": {"datum": 13}}},
                {"data": {"name": "traits"}, "transform": [{"filter": "datum.trait === 'PH'"}], "mark": {"type": "point", "shape": "triangle-up", "filled": true, "color": "#111", "size": 10, "opacity": 1}, "encoding": {"x": {"datum": -15}, "y": {"datum": 13}}},
                {"data": {"name": "traits"}, "transform": [{"filter": "datum.trait === 'PH'"}], "mark": {"type": "point", "shape": "triangle-right", "filled": true, "color": "#111", "size": 14, "opacity": 1}, "encoding": {"x": {"datum": 904}, "y": {"datum": -0.51}}},
                {"data": {"name": "chroms"}, "mark": {"type": "text", "font": "DejaVu Serif", "fontStyle": "italic", "fontWeight": "bold", "fontSize": 6, "color": "#222", "baseline": "top", "dy": 2}, "encoding": {"x": {"field": "mid", "type": "quantitative"}, "y": {"datum": -0.51}, "text": {"field": "chr"}}},
                {"data": {"name": "chroms"}, "mark": {"type": "point", "shape": "circle", "filled": false, "color": "#888", "strokeWidth": 0.7, "size": 6, "yOffset": 5}, "encoding": {"x": {"field": "start", "type": "quantitative"}, "y": {"datum": -0.51}}},
                {"data": {"name": "chroms"}, "mark": {"type": "text", "fontSize": 4, "color": "#777", "align": "right", "baseline": "top", "dy": 1}, "encoding": {"x": {"field": "end", "type": "quantitative"}, "y": {"datum": 0}, "text": {"field": "len"}}}
              ]
            }
          ]
        },
        {
          "spacing": 9,
          "vconcat": [
            {
              "width": 249, "height": 106,
              "layer": [
                {"data": {"name": "lod"}, "transform": [{"filter": "datum.trait === 'PL'"}], "mark": {"type": "line", "color": "#858585", "strokeWidth": 0.9},
                 "encoding": {
                   "x": {"field": "cM", "type": "quantitative", "scale": {"domain": [-15, 904], "nice": false, "zero": false}, "axis": {"title": null, "labels": false, "ticks": false, "grid": false, "domainColor": "#111", "domainWidth": 1}},
                   "y": {"field": "LOD", "type": "quantitative", "scale": {"domain": [-1.11, 20], "nice": false, "zero": false}, "axis": {"title": null, "values": [0, 4, 8, 12, 16, 20], "tickCount": 12, "format": ".1f", "labelOverlap": false, "grid": false, "domainColor": "#111", "domainWidth": 1.5, "tickColor": "#111", "tickSize": 4, "tickWidth": 1.5, "labelFontSize": 5, "labelColor": "#666", "labelPadding": 5}},
                   "detail": {"field": "chr"}}},
                {"data": {"name": "traits"}, "transform": [{"filter": "datum.trait === 'PL'"}], "mark": {"type": "rule", "color": "#8c8c8c", "strokeWidth": 0.8}, "encoding": {"y": {"field": "threshold", "type": "quantitative"}}},
                {"data": {"name": "traits"}, "transform": [{"filter": "datum.trait === 'PL'"}], "mark": {"type": "text", "fontSize": 4.5, "color": "#666", "align": "left", "baseline": "bottom", "dy": -1}, "encoding": {"x": {"datum": 5}, "y": {"field": "threshold", "type": "quantitative"}, "text": {"field": "threshold", "type": "quantitative", "format": ".1f"}}},
                {"data": {"name": "traits"}, "transform": [{"filter": "datum.trait === 'PL'"}], "mark": {"type": "text", "fontSize": 6.5, "fontWeight": "bold", "color": "#111", "align": "left", "baseline": "middle"}, "encoding": {"x": {"datum": 611}, "y": {"datum": 17.6}, "text": {"field": "name"}}},
                {"data": {"name": "traits"}, "transform": [{"filter": "datum.trait === 'PL'"}], "mark": {"type": "text", "fontSize": 4.5, "color": "#666", "align": "left", "baseline": "middle", "dx": 3, "text": "LOD"}, "encoding": {"x": {"datum": -15}, "y": {"datum": 20}}},
                {"data": {"name": "traits"}, "transform": [{"filter": "datum.trait === 'PL'"}], "mark": {"type": "point", "shape": "triangle-up", "filled": true, "color": "#111", "size": 10, "opacity": 1}, "encoding": {"x": {"datum": -15}, "y": {"datum": 20}}},
                {"data": {"name": "traits"}, "transform": [{"filter": "datum.trait === 'PL'"}], "mark": {"type": "point", "shape": "triangle-right", "filled": true, "color": "#111", "size": 14, "opacity": 1}, "encoding": {"x": {"datum": 904}, "y": {"datum": -1.11}}},
                {"data": {"name": "chroms"}, "mark": {"type": "text", "font": "DejaVu Serif", "fontStyle": "italic", "fontWeight": "bold", "fontSize": 6, "color": "#222", "baseline": "top", "dy": 2}, "encoding": {"x": {"field": "mid", "type": "quantitative"}, "y": {"datum": -1.11}, "text": {"field": "chr"}}},
                {"data": {"name": "chroms"}, "mark": {"type": "point", "shape": "circle", "filled": false, "color": "#888", "strokeWidth": 0.7, "size": 6, "yOffset": 5}, "encoding": {"x": {"field": "start", "type": "quantitative"}, "y": {"datum": -1.11}}},
                {"data": {"name": "chroms"}, "mark": {"type": "text", "fontSize": 4, "color": "#777", "align": "right", "baseline": "top", "dy": 1}, "encoding": {"x": {"field": "end", "type": "quantitative"}, "y": {"datum": 0}, "text": {"field": "len"}}}
              ]
            },
            {
              "width": 263, "height": 107,
              "layer": [
                {"data": {"name": "lod"}, "transform": [{"filter": "datum.trait === 'TN'"}], "mark": {"type": "line", "color": "#858585", "strokeWidth": 0.9},
                 "encoding": {
                   "x": {"field": "cM", "type": "quantitative", "scale": {"domain": [-15, 904], "nice": false, "zero": false}, "axis": {"title": null, "labels": false, "ticks": false, "grid": false, "domainColor": "#111", "domainWidth": 1}},
                   "y": {"field": "LOD", "type": "quantitative", "scale": {"domain": [-0.125, 5], "nice": false, "zero": false}, "axis": {"title": null, "values": [0, 1, 2, 3, 4, 5], "tickCount": 12, "format": ".1f", "labelOverlap": false, "grid": false, "domainColor": "#111", "domainWidth": 1.5, "tickColor": "#111", "tickSize": 4, "tickWidth": 1.5, "labelFontSize": 5, "labelColor": "#666", "labelPadding": 5}},
                   "detail": {"field": "chr"}}},
                {"data": {"name": "traits"}, "transform": [{"filter": "datum.trait === 'TN'"}], "mark": {"type": "rule", "color": "#8c8c8c", "strokeWidth": 0.8}, "encoding": {"y": {"field": "threshold", "type": "quantitative"}}},
                {"data": {"name": "traits"}, "transform": [{"filter": "datum.trait === 'TN'"}], "mark": {"type": "text", "fontSize": 4.5, "color": "#666", "align": "left", "baseline": "bottom", "dy": -1}, "encoding": {"x": {"datum": 5}, "y": {"field": "threshold", "type": "quantitative"}, "text": {"field": "threshold", "type": "quantitative", "format": ".1f"}}},
                {"data": {"name": "traits"}, "transform": [{"filter": "datum.trait === 'TN'"}], "mark": {"type": "text", "fontSize": 6.5, "fontWeight": "bold", "color": "#111", "align": "left", "baseline": "middle"}, "encoding": {"x": {"datum": 578}, "y": {"datum": 4.5}, "text": {"field": "name"}}},
                {"data": {"name": "traits"}, "transform": [{"filter": "datum.trait === 'TN'"}], "mark": {"type": "text", "fontSize": 4.5, "color": "#666", "align": "left", "baseline": "middle", "dx": 3, "text": "LOD"}, "encoding": {"x": {"datum": -15}, "y": {"datum": 5}}},
                {"data": {"name": "traits"}, "transform": [{"filter": "datum.trait === 'TN'"}], "mark": {"type": "point", "shape": "triangle-up", "filled": true, "color": "#111", "size": 10, "opacity": 1}, "encoding": {"x": {"datum": -15}, "y": {"datum": 5}}},
                {"data": {"name": "traits"}, "transform": [{"filter": "datum.trait === 'TN'"}], "mark": {"type": "point", "shape": "triangle-right", "filled": true, "color": "#111", "size": 14, "opacity": 1}, "encoding": {"x": {"datum": 904}, "y": {"datum": -0.125}}},
                {"data": {"name": "chroms"}, "mark": {"type": "text", "font": "DejaVu Serif", "fontStyle": "italic", "fontWeight": "bold", "fontSize": 6, "color": "#222", "baseline": "top", "dy": 2}, "encoding": {"x": {"field": "mid", "type": "quantitative"}, "y": {"datum": -0.125}, "text": {"field": "chr"}}},
                {"data": {"name": "chroms"}, "mark": {"type": "point", "shape": "circle", "filled": false, "color": "#888", "strokeWidth": 0.7, "size": 6, "yOffset": 5}, "encoding": {"x": {"field": "start", "type": "quantitative"}, "y": {"datum": -0.125}}},
                {"data": {"name": "chroms"}, "mark": {"type": "text", "fontSize": 4, "color": "#777", "align": "right", "baseline": "top", "dy": 1}, "encoding": {"x": {"field": "end", "type": "quantitative"}, "y": {"datum": 0}, "text": {"field": "len"}}}
              ]
            }
          ]
        }
      ]
    },
    {
      "width": 274, "height": 113,
      "layer": [
        {"data": {"name": "lod"}, "transform": [{"filter": "datum.trait === 'SR'"}], "mark": {"type": "line", "color": "#858585", "strokeWidth": 0.9},
         "encoding": {
           "x": {"field": "cM", "type": "quantitative", "scale": {"domain": [-15, 904], "nice": false, "zero": false}, "axis": {"title": null, "labels": false, "ticks": false, "grid": false, "domainColor": "#111", "domainWidth": 1}},
           "y": {"field": "LOD", "type": "quantitative", "scale": {"domain": [-0.22, 6], "nice": false, "zero": false}, "axis": {"title": null, "values": [0, 1.2, 2.4, 3.6, 4.8, 6], "tickCount": 12, "format": ".1f", "labelOverlap": false, "grid": false, "domainColor": "#111", "domainWidth": 1.5, "tickColor": "#111", "tickSize": 4, "tickWidth": 1.5, "labelFontSize": 5, "labelColor": "#666", "labelPadding": 5}},
           "detail": {"field": "chr"}}},
        {"data": {"name": "traits"}, "transform": [{"filter": "datum.trait === 'SR'"}], "mark": {"type": "rule", "color": "#8c8c8c", "strokeWidth": 0.8}, "encoding": {"y": {"field": "threshold", "type": "quantitative"}}},
        {"data": {"name": "traits"}, "transform": [{"filter": "datum.trait === 'SR'"}], "mark": {"type": "text", "fontSize": 4.5, "color": "#666", "align": "left", "baseline": "bottom", "dy": -1}, "encoding": {"x": {"datum": 5}, "y": {"field": "threshold", "type": "quantitative"}, "text": {"field": "threshold", "type": "quantitative", "format": ".1f"}}},
        {"data": {"name": "traits"}, "transform": [{"filter": "datum.trait === 'SR'"}], "mark": {"type": "text", "fontSize": 6.5, "fontWeight": "bold", "color": "#111", "align": "left", "baseline": "middle"}, "encoding": {"x": {"datum": 554}, "y": {"datum": 5.6}, "text": {"field": "name"}}},
        {"data": {"name": "traits"}, "transform": [{"filter": "datum.trait === 'SR'"}], "mark": {"type": "text", "fontSize": 4.5, "color": "#666", "align": "left", "baseline": "middle", "dx": 3, "text": "LOD"}, "encoding": {"x": {"datum": -15}, "y": {"datum": 6}}},
        {"data": {"name": "traits"}, "transform": [{"filter": "datum.trait === 'SR'"}], "mark": {"type": "point", "shape": "triangle-up", "filled": true, "color": "#111", "size": 10, "opacity": 1}, "encoding": {"x": {"datum": -15}, "y": {"datum": 6}}},
        {"data": {"name": "traits"}, "transform": [{"filter": "datum.trait === 'SR'"}], "mark": {"type": "point", "shape": "triangle-right", "filled": true, "color": "#111", "size": 14, "opacity": 1}, "encoding": {"x": {"datum": 904}, "y": {"datum": -0.22}}},
        {"data": {"name": "chroms"}, "mark": {"type": "text", "font": "DejaVu Serif", "fontStyle": "italic", "fontWeight": "bold", "fontSize": 6, "color": "#222", "baseline": "top", "dy": 2}, "encoding": {"x": {"field": "mid", "type": "quantitative"}, "y": {"datum": -0.22}, "text": {"field": "chr"}}},
        {"data": {"name": "chroms"}, "mark": {"type": "point", "shape": "circle", "filled": false, "color": "#888", "strokeWidth": 0.7, "size": 6, "yOffset": 5}, "encoding": {"x": {"field": "start", "type": "quantitative"}, "y": {"datum": -0.22}}},
        {"data": {"name": "chroms"}, "mark": {"type": "text", "fontSize": 4, "color": "#777", "align": "right", "baseline": "top", "dy": 1}, "encoding": {"x": {"field": "end", "type": "quantitative"}, "y": {"datum": 0}, "text": {"field": "len"}}}
      ]
    }
  ]
}
